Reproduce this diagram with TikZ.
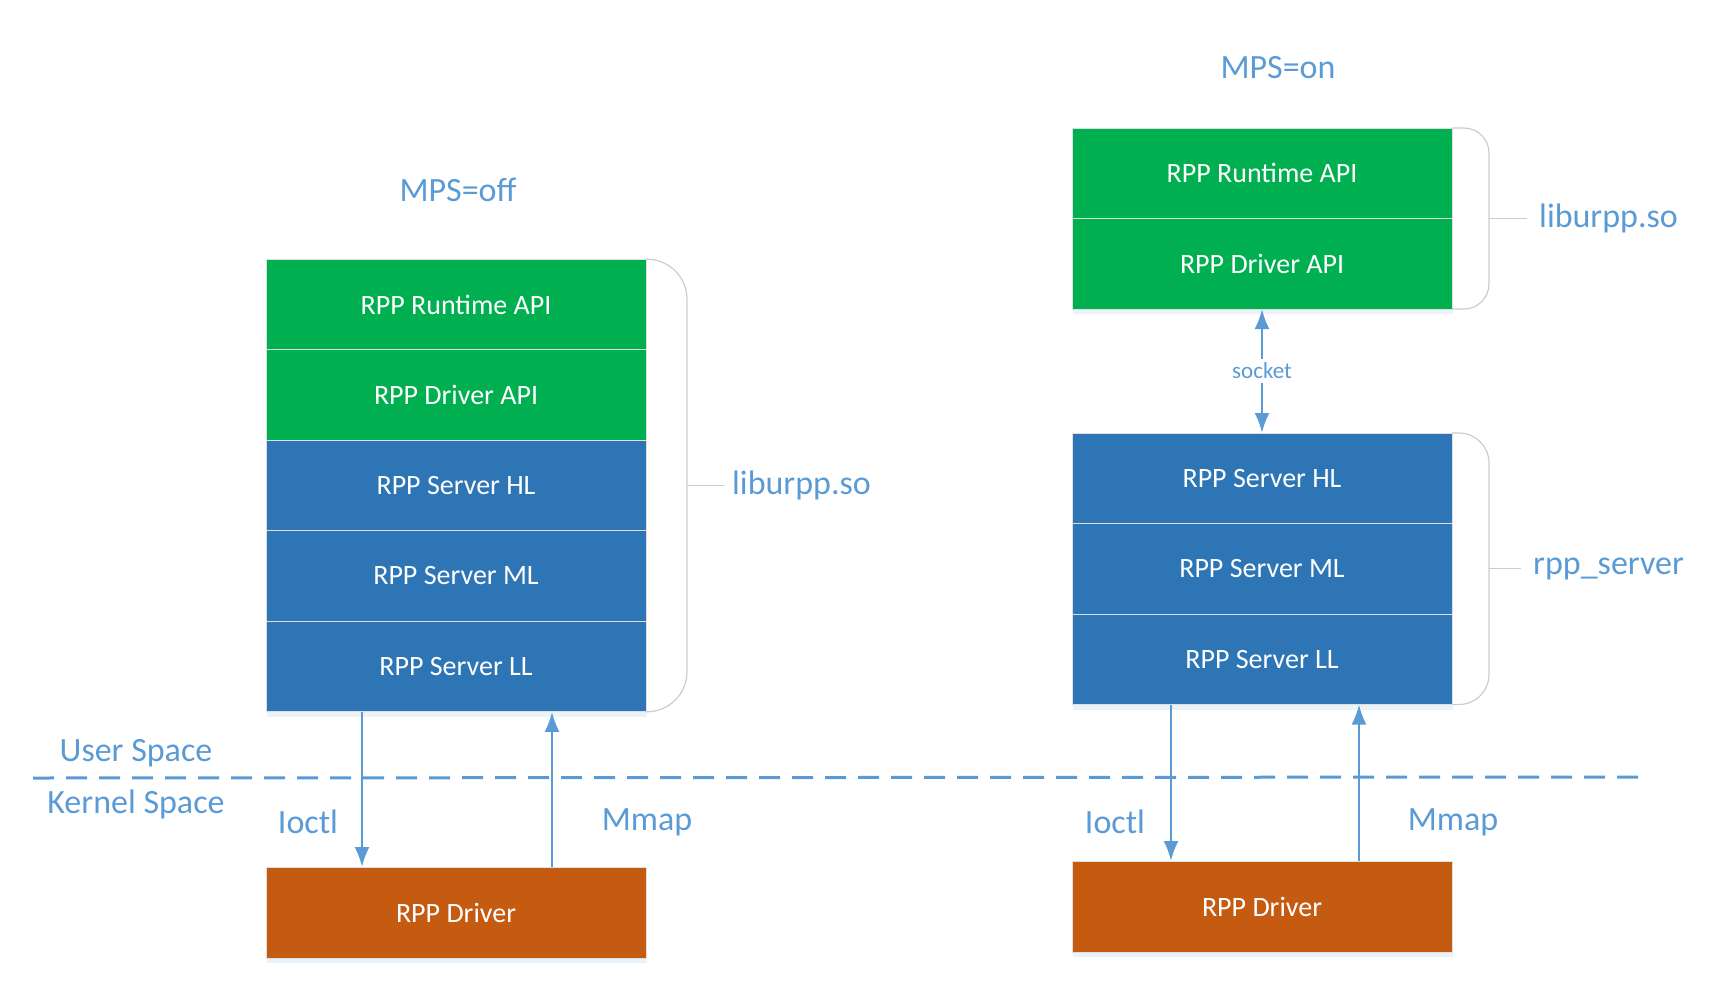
\documentclass[tikz,border=0pt]{standalone}
\usepackage{fontspec}
\setmainfont{Carlito}
\usepackage{xcolor}
\usetikzlibrary{positioning,calc,arrows.meta,shadows}

\definecolor{apigreen}{HTML}{00B050}
\definecolor{srvblue}{HTML}{2E75B6}
\definecolor{drvorange}{HTML}{C55A11}
\definecolor{lblblue}{HTML}{5B9BD5}

\tikzset{
  block/.style={draw=gray!25, line width=1pt, minimum width=380pt, minimum height=90.5pt,
    inner sep=0pt, outer sep=0pt, text=white, font=\fontsize{28}{32}\selectfont,
    drop shadow={shadow xshift=1pt, shadow yshift=-5pt, fill=lblblue!30, opacity=0.4}},
  apiblk/.style={block, fill=apigreen},
  srvblk/.style={block, fill=srvblue},
  drvblk/.style={block, fill=drvorange},
  lbl/.style={text=lblblue, font=\fontsize{34}{40}\selectfont, inner sep=0pt},
  tip/.style={Latex[length=20pt,width=15pt]},
  flow/.style={draw=lblblue, line width=2.5pt, -{Latex[length=20pt,width=15pt]}},
  brace/.style={draw=gray!40, line width=1.2pt, rounded corners=40pt},
}

\begin{document}
\begin{tikzpicture}[x=1pt, y=-1pt]
    \useasboundingbox (0,0) rectangle (1722,999);

    % user / kernel boundary
    \coordinate (dl) at (33,778);
    \coordinate (dr) at (1646,777);
    \draw[draw=lblblue, line width=3pt, dash pattern=on 21pt off 12pt] (dl) -- (dr);
    \node[lbl] (user) at (136,753) {User Space};
    \node[lbl] (kernel) at (136,804) {Kernel Space};

    % MPS=off
    \node[lbl] (off) at (458,190) {MPS=off};
    \node[apiblk] (lrt) at (456,304.5) {RPP Runtime API};
    \node[apiblk, below=0pt of lrt] (lda) {RPP Driver API};
    \node[srvblk, below=0pt of lda] (lhl) {RPP Server HL};
    \node[srvblk, below=0pt of lhl] (lml) {RPP Server ML};
    \node[srvblk, below=0pt of lml] (lll) {RPP Server LL};
    \node[drvblk, minimum height=91pt] (ldrv) at (456,912.5) {RPP Driver};

    \draw[brace] (lrt.north east) -- ++(41,0) |- (lll.south east);
    \path ($(lrt.north east)!0.5!(lll.south east)$) ++(41,0) coordinate (lb);
    \node[lbl, anchor=west, right=45pt of lb] (llib) {liburpp.so};
    \draw[brace, shorten >=8pt] (lb) -- (llib.west);

    \draw[flow] ([xshift=-94pt]lll.south) -- ([xshift=-94pt]ldrv.north);
    \draw[flow] ([xshift=96pt]ldrv.north) -- ([xshift=96pt]lll.south);
    \node[lbl] (lio) at (308,822) {Ioctl};
    \node[lbl] (lmm) at (647,822) {Mmap};

    % MPS=on
    \node[lbl] (on) at (1278,68) {MPS=on};
    \node[apiblk] (rrt) at (1262,173.25) {RPP Runtime API};
    \node[apiblk, below=0pt of rrt] (rda) {RPP Driver API};
    \node[srvblk] (rhl) at (1262,478.25) {RPP Server HL};
    \node[srvblk, below=0pt of rhl] (rml) {RPP Server ML};
    \node[srvblk, below=0pt of rml] (rll) {RPP Server LL};
    \node[drvblk, minimum height=91pt] (rdrv) at (1262,906.5) {RPP Driver};

    \draw[brace, rounded corners=25pt] (rrt.north east) -- ++(37,0) |- (rda.south east);
    \path ($(rrt.north east)!0.5!(rda.south east)$) ++(37,0) coordinate (rb1);
    \node[lbl, anchor=west, right=50pt of rb1] (rlib) {liburpp.so};
    \draw[brace, shorten >=12pt] (rb1) -- (rlib.west);

    \draw[brace, rounded corners=30pt] (rhl.north east) -- ++(37,0) |- (rll.south east);
    \path ($(rhl.north east)!0.5!(rll.south east)$) ++(37,0) coordinate (rb2);
    \node[lbl, anchor=west, right=44pt of rb2] (rsrv) {rpp\_server};
    \draw[brace, shorten >=12pt] (rb2) -- (rsrv.west);

    \draw[draw=lblblue, line width=2.5pt, {Latex[length=20pt,width=15pt]}-{Latex[length=20pt,width=15pt]}]
        (rda.south) -- node[fill=white, text=lblblue, font=\fontsize{23}{26}\selectfont, inner sep=4pt] (sock) {socket} (rhl.north);

    \draw[flow] ([xshift=-91pt]rll.south) -- ([xshift=-91pt]rdrv.north);
    \draw[flow] ([xshift=97pt]rdrv.north) -- ([xshift=97pt]rll.south);
    \node[lbl] (rio) at (1115,822) {Ioctl};
    \node[lbl] (rmm) at (1453,822) {Mmap};
\end{tikzpicture}
\end{document}
